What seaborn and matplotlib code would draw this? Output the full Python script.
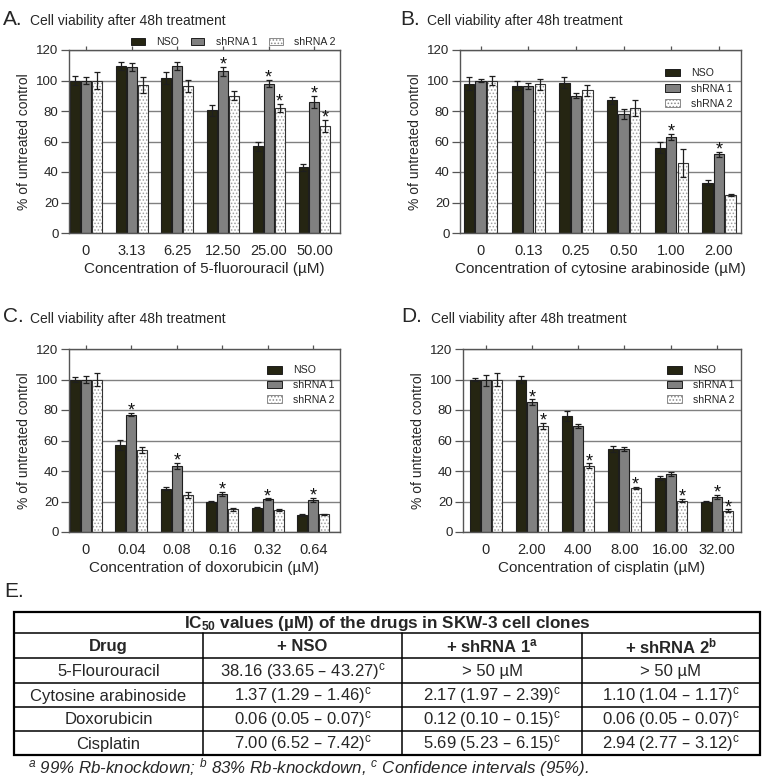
import numpy as np
import pandas as pd
import matplotlib
matplotlib.use("Agg")
import matplotlib.pyplot as plt
import seaborn as sns
from matplotlib.patches import Patch, Rectangle

# ---------------- data ----------------
groups = ["NSO", "shRNA 1", "shRNA 2"]

a_conc = ["0", "3.13", "6.25", "12.50", "25.00", "50.00"]
a_nso = [100, 109.5, 101.5, 80.5, 57, 43]
a_sh1 = [100, 109, 109.5, 106, 98, 86]
a_sh2 = [100, 97, 96.5, 90, 82, 70]
a_nso_err = [3, 2.5, 4, 3.5, 3, 2.5]
a_sh1_err = [2, 2.5, 2.5, 3, 2.5, 4]
a_sh2_err = [5.5, 5, 4, 3, 2.5, 4]
a_nso_star = [0, 0, 0, 0, 0, 0]
a_sh1_star = [0, 0, 0, 1, 1, 1]
a_sh2_star = [0, 0, 0, 0, 1, 1]

b_conc = ["0", "0.13", "0.25", "0.50", "1.00", "2.00"]
b_nso = [98, 96.5, 98.5, 87, 56, 33]
b_sh1 = [100, 96.5, 90, 78, 63, 51.5]
b_sh2 = [100, 97.5, 93.5, 82, 46, 25]
b_nso_err = [4, 3, 3.5, 2.5, 3.5, 1.5]
b_sh1_err = [1, 2, 1.5, 3, 2, 1.5]
b_sh2_err = [3, 3.5, 3.5, 5, 9, 0.5]
b_nso_star = [0, 0, 0, 0, 0, 0]
b_sh1_star = [0, 0, 0, 0, 1, 1]
b_sh2_star = [0, 0, 0, 0, 0, 0]

c_conc = ["0", "0.04", "0.08", "0.16", "0.32", "0.64"]
c_nso = [100, 57, 28.5, 20, 16, 11]
c_sh1 = [100, 77, 43.5, 25, 21.5, 21]
c_sh2 = [100, 54, 24.5, 15, 14.5, 11.5]
c_nso_err = [1.5, 3.5, 1, 0.5, 0.5, 0.5]
c_sh1_err = [2.5, 1, 2, 1.5, 0.5, 1.5]
c_sh2_err = [4, 2, 2, 1, 0.5, 0.5]
c_nso_star = [0, 0, 0, 0, 0, 0]
c_sh1_star = [0, 1, 1, 1, 1, 1]
c_sh2_star = [0, 0, 0, 0, 0, 0]

d_conc = ["0", "2.00", "4.00", "8.00", "16.00", "32.00"]
d_nso = [100, 100, 76, 54.5, 35.5, 20]
d_sh1 = [99.5, 85, 69.5, 54.5, 38, 23]
d_sh2 = [100, 69.5, 43.5, 29, 20.5, 14]
d_nso_err = [0.8, 2, 3.5, 2, 1.5, 0.3]
d_sh1_err = [3.5, 2, 1.5, 1.5, 1.5, 1.5]
d_sh2_err = [4, 2, 1.5, 0.5, 1, 0.8]
d_nso_star = [0, 0, 0, 0, 0, 0]
d_sh1_star = [0, 1, 0, 0, 0, 1]
d_sh2_star = [0, 1, 1, 1, 1, 1]

y_ticks = [0, 20, 40, 60, 80, 100, 120]

panel_letters = ["A.", "B.", "C.", "D."]
panel_title = "Cell viability after 48h treatment"
y_label = "% of untreated control"
x_labels = ["Concentration of 5-fluorouracil (µM)",
            "Concentration of cytosine arabinoside (µM)",
            "Concentration of doxorubicin (µM)",
            "Concentration of cisplatin (µM)"]

table_title = r"IC$_{50}$ values (µM) of the drugs in SKW-3 cell clones"
table_header = ["Drug", "+ NSO", r"+ shRNA 1$^{a}$", r"+ shRNA 2$^{b}$"]
drugs = ["5-Flourouracil", "Cytosine arabinoside", "Doxorubicin", "Cisplatin"]
ic50_nso = [r"38.16 (33.65 – 43.27)$^{c}$", r"1.37 (1.29 – 1.46)$^{c}$",
            r"0.06 (0.05 – 0.07)$^{c}$", r"7.00 (6.52 – 7.42)$^{c}$"]
ic50_sh1 = ["> 50 µM", r"2.17 (1.97 – 2.39)$^{c}$",
            r"0.12 (0.10 – 0.15)$^{c}$", r"5.69 (5.23 – 6.15)$^{c}$"]
ic50_sh2 = ["> 50 µM", r"1.10 (1.04 – 1.17)$^{c}$",
            r"0.06 (0.05 – 0.07)$^{c}$", r"2.94 (2.77 – 3.12)$^{c}$"]
footnote = (r"$^{a}$ 99% Rb-knockdown; $^{b}$ 83% Rb-knockdown, "
            r"$^{c}$ Confidence intervals (95%).")

# ---------------- style ----------------
sns.set_style("ticks")
plt.rcParams["font.family"] = ["Liberation Sans", "DejaVu Sans"]
plt.rcParams["mathtext.default"] = "regular"
plt.rcParams["hatch.linewidth"] = 0.7

W, H = 768, 781
fig = plt.figure(figsize=(W / 100, H / 100), dpi=100)
fig.patch.set_facecolor("white")

bar_colors = ["#252512", "#808080", "#ffffff"]
edge_dark = "#1e1e1e"


def frect(l, t, r, b):
    return [l / W, 1 - b / H, (r - l) / W, (b - t) / H]


def draw_panel(ax, conc, vals, errs, stars, xlabel, xlim, legend_kw):
    df = pd.DataFrame({
        "conc": list(conc) * 3,
        "group": np.repeat(groups, len(conc)),
        "value": np.concatenate([np.asarray(v, float) for v in vals]),
    })
    sns.barplot(data=df, x="conc", y="value", hue="group", order=conc,
                hue_order=groups, palette=dict(zip(groups, bar_colors)),
                saturation=1, width=0.72, gap=0.1, errorbar=None,
                edgecolor=edge_dark, linewidth=0.8, legend=False, ax=ax,
                zorder=2)
    bar_conts = list(ax.containers)
    for k, cont in enumerate(bar_conts):
        for p, e, s in zip(cont.patches, errs[k], stars[k]):
            x = p.get_x() + p.get_width() / 2
            h = p.get_height()
            if k == 2:
                p.set_hatch(".....")
                p.set_edgecolor("#a0a0a0")
                p.set_linewidth(0)
                ax.add_patch(Rectangle((p.get_x(), p.get_y()), p.get_width(), h,
                                       fill=False, edgecolor="#333333",
                                       lw=0.8, zorder=2.5))
            ax.errorbar(x, h, yerr=e, fmt="none", ecolor=edge_dark,
                        elinewidth=0.9, capsize=2.4, capthick=0.9, zorder=3)
            if s:
                ax.text(x, h + e - 1.8, "*", ha="center", va="baseline",
                        fontsize=13, color="#111111", zorder=4)
    ax.set_ylim(0, 120)
    ax.set_yticks(y_ticks)
    ax.set_xlim(*xlim)
    ax.yaxis.grid(True, color="#808080", lw=1.0)
    ax.set_axisbelow(True)
    for sp in ax.spines.values():
        sp.set_visible(True)
        sp.set_color("#555555")
        sp.set_linewidth(1.0)
    ax.tick_params(axis="x", top=True, bottom=False, labeltop=False,
                   labelbottom=True, direction="out", length=3, width=0.9,
                   color="#555555", pad=5, labelsize=10.5)
    ax.tick_params(axis="y", left=True, right=False, direction="out",
                   length=5.5, width=0.9, color="#555555", pad=2,
                   labelsize=9.5)
    ax.set_xlabel(xlabel, fontsize=11, labelpad=3)
    ax.set_ylabel(y_label, fontsize=10, labelpad=4)
    handles = [Patch(facecolor=bar_colors[0], edgecolor=edge_dark, lw=0.7),
               Patch(facecolor=bar_colors[1], edgecolor=edge_dark, lw=0.7),
               Patch(facecolor="white", edgecolor="#8a8a8a", lw=0.7,
                     hatch=".....")]
    ax.legend(handles, groups, frameon=False, fontsize=7.6,
              handleheight=0.75, borderpad=0, borderaxespad=0,
              **legend_kw)


axA = fig.add_axes(frect(69, 50, 340, 233))
draw_panel(axA, a_conc, [a_nso, a_sh1, a_sh2], [a_nso_err, a_sh1_err, a_sh2_err],
           [a_nso_star, a_sh1_star, a_sh2_star], x_labels[0], (-0.37, 5.56),
           dict(ncol=3, loc="lower right", bbox_to_anchor=(0.985, 1.015),
                handlelength=1.3, handletextpad=1.1, columnspacing=1.1))

axB = fig.add_axes(frect(460, 50, 741, 233))
draw_panel(axB, b_conc, [b_nso, b_sh1, b_sh2], [b_nso_err, b_sh1_err, b_sh2_err],
           [b_nso_star, b_sh1_star, b_sh2_star], x_labels[1], (-0.43, 5.46),
           dict(loc="upper left", bbox_to_anchor=((665 - 460) / 281, 0.9),
                handlelength=1.4, handletextpad=1.1, labelspacing=0.5))

axC = fig.add_axes(frect(69, 349, 340, 532))
draw_panel(axC, c_conc, [c_nso, c_sh1, c_sh2], [c_nso_err, c_sh1_err, c_sh2_err],
           [c_nso_star, c_sh1_star, c_sh2_star], x_labels[2], (-0.37, 5.59),
           dict(loc="upper left", bbox_to_anchor=((267 - 69) / 271, 0.91),
                handlelength=1.4, handletextpad=1.1, labelspacing=0.45))

axD = fig.add_axes(frect(463, 349, 741, 532))
draw_panel(axD, d_conc, [d_nso, d_sh1, d_sh2], [d_nso_err, d_sh1_err, d_sh2_err],
           [d_nso_star, d_sh1_star, d_sh2_star], x_labels[3], (-0.49, 5.52),
           dict(loc="upper left", bbox_to_anchor=((667 - 463) / 278, 0.91),
                handlelength=1.4, handletextpad=1.1, labelspacing=0.45))

# panel letters and titles
letter_pos = [(3, 25), (400, 25), (3, 322), (401, 322)]
title_pos = [(30, 25), (427, 25), (30, 323), (431, 323)]
for lt, (lx, ly), (tx, ty) in zip(panel_letters, letter_pos, title_pos):
    fig.text(lx / W, 1 - ly / H, lt, fontsize=15, va="baseline", ha="left")
    fig.text(tx / W, 1 - ty / H, panel_title, fontsize=10, va="baseline",
             ha="left")
fig.text(4 / W, 1 - 597 / H, "E.", fontsize=15, va="baseline", ha="left")

# ---------------- table ----------------
tl, tr, tt, tb = 14, 760, 612, 755
tab = fig.add_axes(frect(tl, tt, tr, tb))
tab.set_xlim(tl, tr)
tab.set_ylim(tb, tt)
tab.axis("off")
col_edges = [14, 203, 402, 582, 760]
row_edges = [612, 633, 658, 683, 707, 731, 755]
for y in row_edges[1:-1]:
    tab.plot([tl, tr], [y, y], color="black", lw=1.1, clip_on=False)
for x in col_edges[1:-1]:
    tab.plot([x, x], [row_edges[1], tb], color="black", lw=1.1, clip_on=False)
tab.add_patch(Rectangle((tl, tt), tr - tl, tb - tt, fill=False,
                        edgecolor="black", lw=1.6, clip_on=False))

tab.text((tl + tr) / 2, (row_edges[0] + row_edges[1]) / 2 + 1, table_title,
         ha="center", va="center", fontsize=12.3, fontweight="bold")
cols = [drugs, ic50_nso, ic50_sh1, ic50_sh2]
for j in range(4):
    cx = (col_edges[j] + col_edges[j + 1]) / 2
    tab.text(cx, (row_edges[1] + row_edges[2]) / 2 + 1, table_header[j],
             ha="center", va="center", fontsize=12, fontweight="bold")
    for i in range(4):
        cy = (row_edges[i + 2] + row_edges[i + 3]) / 2 + 1
        tab.text(cx, cy, cols[j][i], ha="center", va="center", fontsize=12)

fig.text(28 / W, 1 - 773 / H, footnote, fontsize=12.2, style="italic",
         ha="left", va="baseline")

fig.savefig("out.png", dpi=100, facecolor="white")
